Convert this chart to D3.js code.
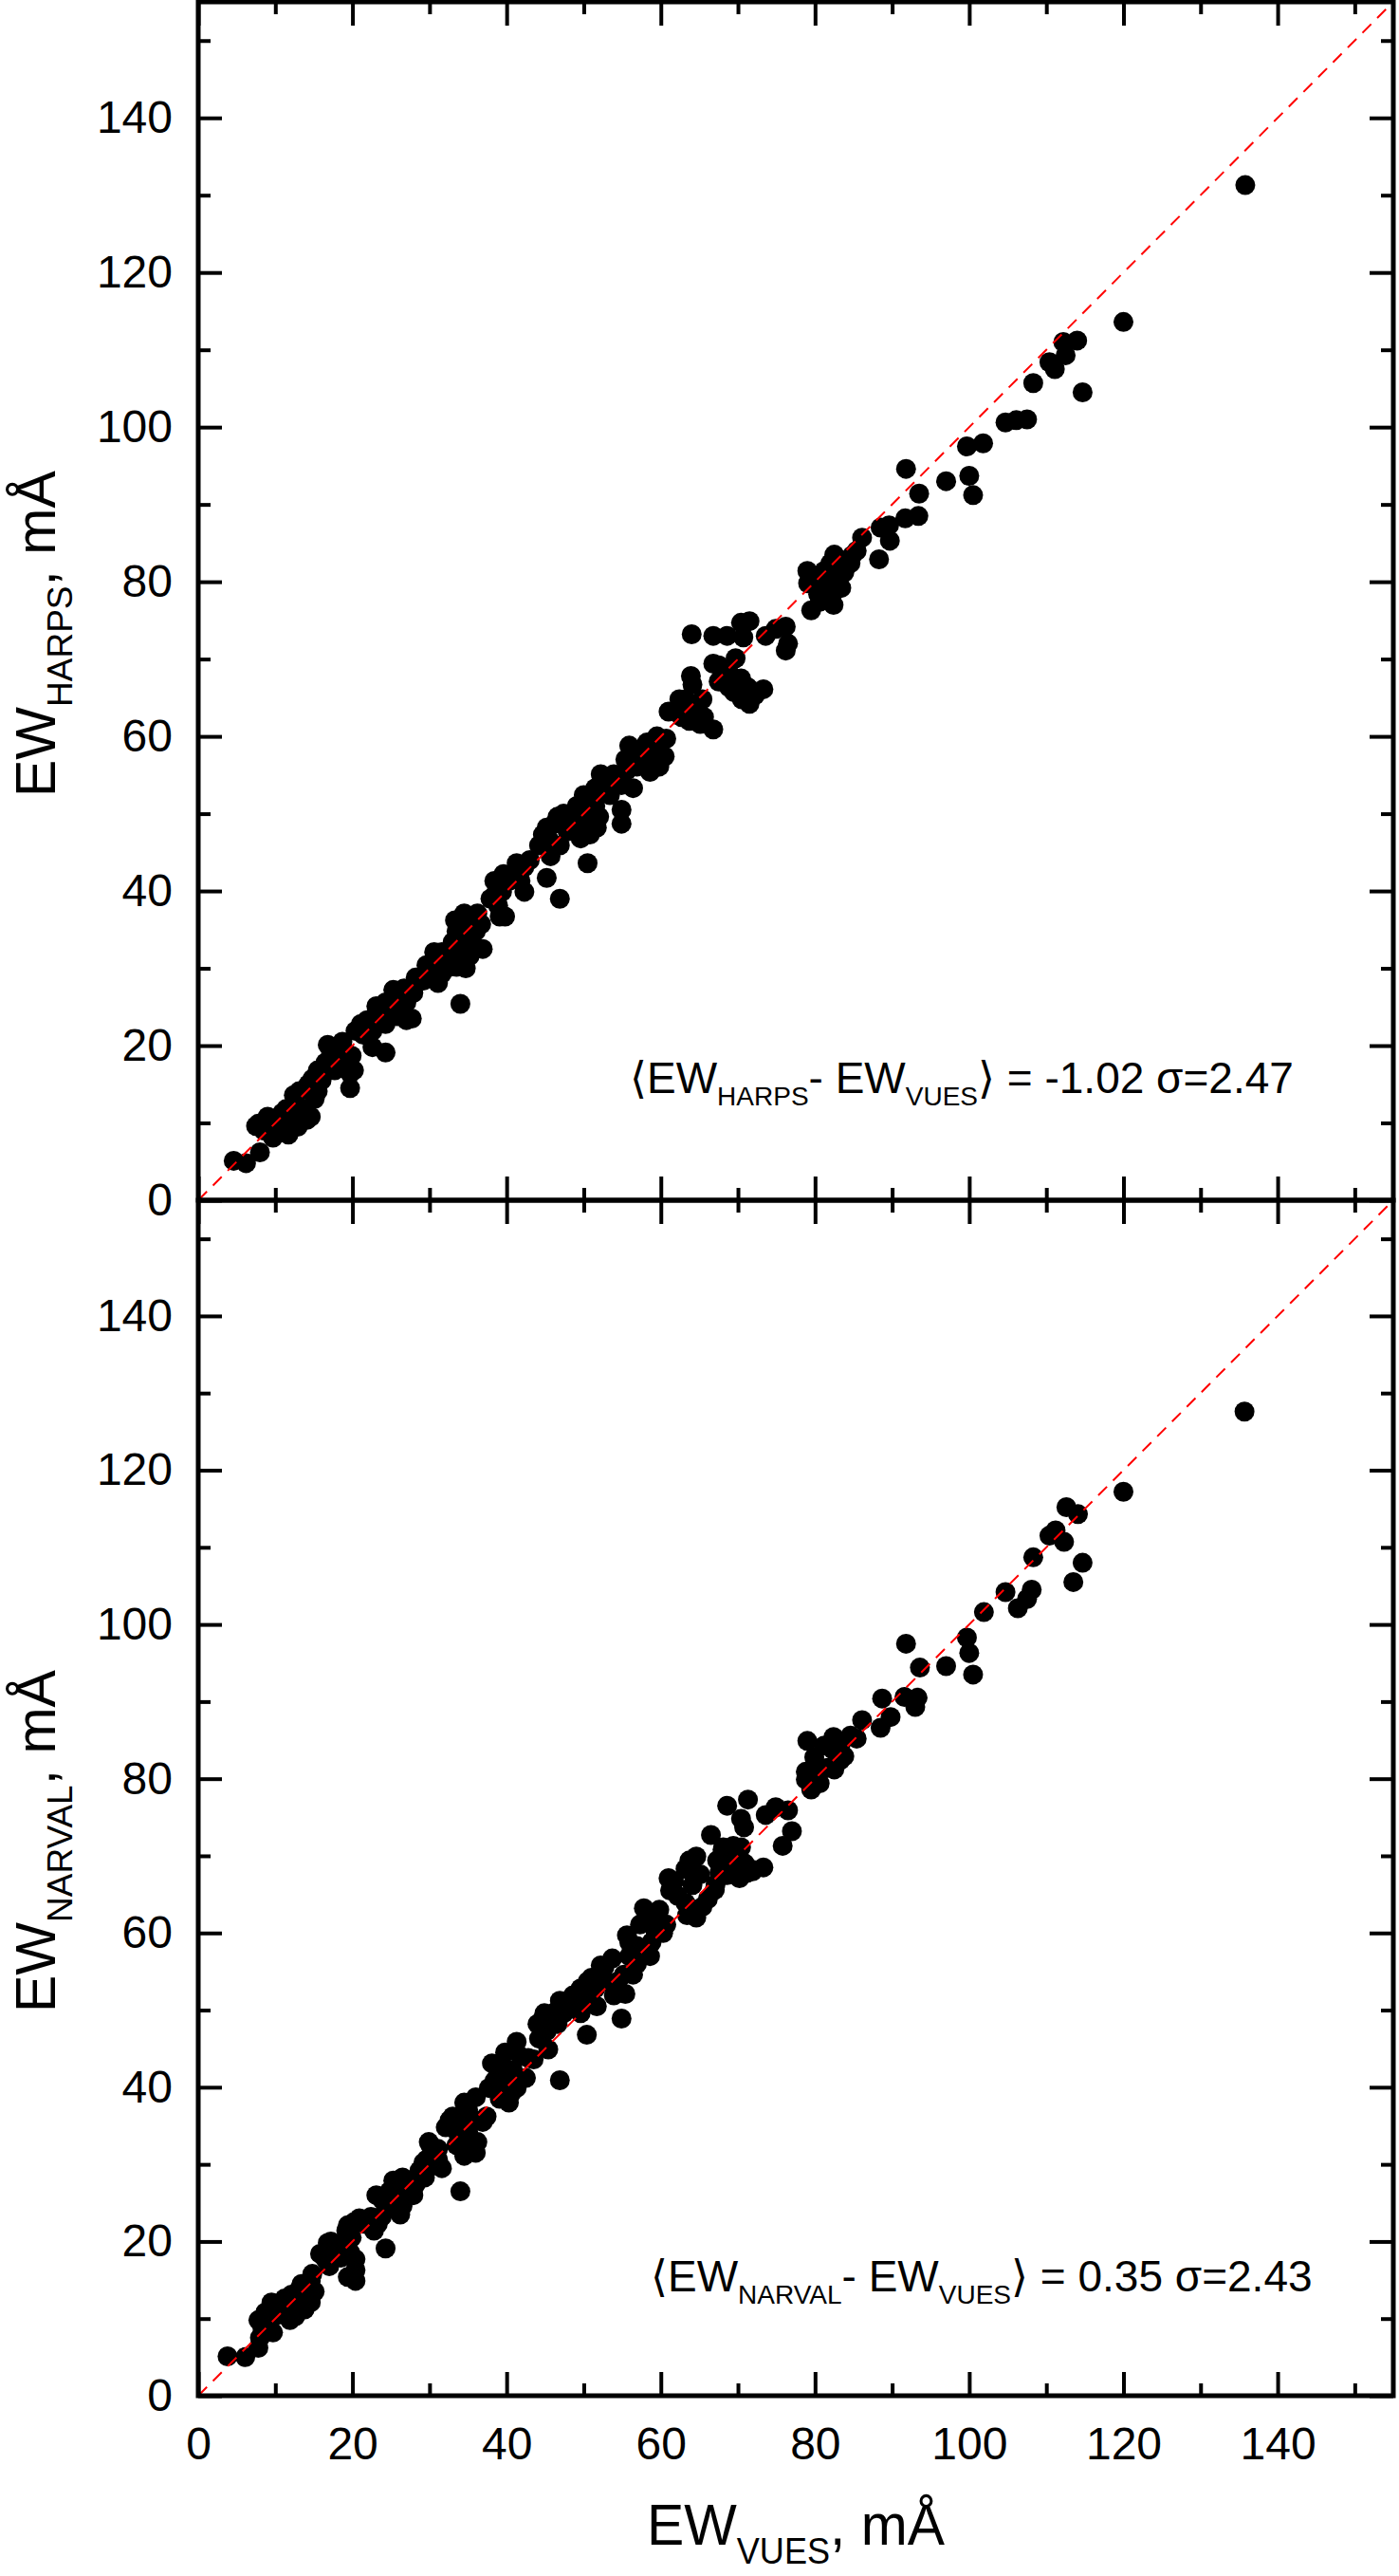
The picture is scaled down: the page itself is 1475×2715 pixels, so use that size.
<!DOCTYPE html>
<html><head><meta charset="utf-8">
<script src="https://cdn.jsdelivr.net/npm/d3@7"></script>
<style>
body{margin:0;background:#fff}
svg{display:block}
text{font-family:"Liberation Sans",Arial,Helvetica,sans-serif;fill:#000}
</style>
</head><body>
<svg id="chart" width="1475" height="2715"></svg>
<script>
// ---------- DATA ----------
// Top panel points: [EW(VUES), EW(HARPS)], mÅ
const harpsPoints = [
[4.6,5.1],[6.2,4.8],[8.0,6.2],[7.8,9.9],[9.0,10.8],[9.7,8.1],[11.7,8.5],[11.4,11.8],[12.6,12.2],[14.1,10.4],
[13.1,14.1],[14.8,15.7],[15.1,13.1],[16.5,17.8],[16.8,20.1],[17.7,16.8],[19.2,19.1],[19.7,14.5],[20.2,16.8],[20.4,21.9],
[21.1,22.8],[22.6,19.8],[24.3,19.1],[23.1,25.1],[22.1,21.7],[25.3,27.2],[26.7,27.4],[25.8,23.8],[27.7,23.5],[27.0,25.6],
[28.2,28.8],[29.6,30.4],[30.6,32.1],[31.1,28.1],[30.1,29.3],[32.1,30.9],[33.3,36.2],[34.0,25.4],[34.5,37.1],[34.7,30.0],
[36.2,37.1],[36.9,32.5],[36.0,34.8],[37.9,39.0],[38.4,41.3],[39.1,36.7],[39.6,42.2],[41.3,43.6],[42.3,39.9],[43.0,44.0],
[45.2,41.7],[45.4,46.8],[46.9,39.0],[45.2,48.2],[46.6,49.6],[49.6,46.8],[50.0,52.4],[50.5,43.6],[51.7,48.2],[51.5,51.0],
[52.2,55.1],[53.9,55.1],[53.4,52.4],[54.9,50.5],[54.9,48.7],[55.9,58.8],[56.4,53.3],[58.2,59.2],[58.6,55.4],[59.5,60.0],
[60.5,57.4],[61.0,63.2],[62.4,64.8],[63.7,62.0],[63.9,67.8],[65.4,64.8],[65.1,61.6],[66.8,60.9],[66.8,69.4],[64.0,73.2],
[7.5,9.6],[8.5,9.0],[9.2,10.1],[10.4,9.9],[10.9,11.3],[12.1,10.4],[12.9,9.5],[13.6,11.8],[14.6,10.8],[12.4,13.6],
[14.3,15.0],[15.5,16.8],[16.0,15.5],[15.5,14.1],[17.2,18.7],[18.2,17.8],[18.7,20.5],[19.9,18.7],[19.7,16.4],[17.7,19.6],
[21.4,21.4],[21.9,23.3],[22.6,21.9],[23.3,23.8],[24.3,22.8],[24.3,25.6],[25.0,24.7],[26.2,26.1],[27.0,23.3],[26.5,24.7],
[27.9,26.8],[29.2,28.4],[30.4,30.7],[31.6,32.1],[31.6,29.3],[32.6,30.2],[33.0,33.4],[33.8,31.6],[33.5,34.8],[34.0,33.4],
[35.0,35.2],[35.5,33.4],[36.7,35.7],[35.2,31.6],[33.5,30.2],[38.4,39.4],[39.4,39.9],[38.9,38.1],[40.3,41.3],[41.1,42.2],
[41.8,41.3],[42.3,43.1],[39.8,36.7],[44.2,45.9],[44.7,47.3],[46.2,48.7],[47.4,50.0],[46.9,45.9],[45.7,44.5],[47.9,47.7],
[48.6,49.6],[49.1,51.0],[50.5,50.0],[49.8,48.7],[51.0,51.9],[50.8,47.3],[52.0,49.6],[51.5,53.3],[53.4,54.2],[54.9,53.7],
[55.4,57.0],[56.4,58.3],[55.6,55.6],[56.9,56.1],[57.3,57.9],[58.3,57.0],[59.3,58.3],[59.8,56.1],[60.7,59.7],[62.0,63.4],
[62.7,62.5],[63.2,64.8],[64.1,66.7],[64.6,63.4],[65.6,62.5],[67.5,67.1],[69.0,68.0],[69.5,65.7],[70.5,64.8],[71.4,66.2],
[71.9,65.3],
[135.8,131.3],[120.0,113.6],[114.0,111.2],[112.2,111.0],[112.5,109.3],[110.4,108.4],[111.1,107.5],[114.7,104.5],[108.3,105.7],[104.7,100.6],
[106.1,100.9],[107.5,101.0],[99.7,97.5],[101.8,97.9],[100.0,93.7],[100.5,91.2],[97.0,93.0],[91.8,94.6],[93.5,91.4],[93.4,88.5],
[91.7,88.2],[89.6,87.3],[88.5,87.0],[89.7,85.3],[88.3,82.9],[86.1,85.7],[85.4,84.0],[84.6,82.4],[82.5,83.5],[82.0,82.4],
[79.0,81.4],[79.1,79.8],[82.8,80.2],[81.7,79.3],[80.4,78.4],[79.5,76.3],[82.4,77.0],[83.8,81.2],[76.2,74.2],[74.9,73.9],
[73.6,73.0],[76.5,72.0],[76.2,71.1],[71.5,74.9],[70.4,74.7],[70.7,72.8],[68.6,73.0],[66.8,73.0],[69.7,70.1],[67.5,69.2],
[70.4,67.5],[73.3,66.1],[71.5,64.2],[68.8,66.4],
[80.1,80.7],[81.2,81.4],[83.2,82.4],[84.8,83.4],[80.6,77.4],[82.2,78.3],[83.4,79.2],[68.3,67.7],[69.6,66.0],[71.2,66.4],
[72.2,65.3]
];

// Bottom panel points: [EW(VUES), EW(NARVAL)], mÅ
const narvalPoints = [
[3.8,5.1],[6.1,5.0],[7.8,6.2],[8.0,7.5],[7.8,9.8],[8.7,10.8],[9.7,8.2],[10.0,11.9],[11.2,12.6],[11.9,9.8],
[12.1,13.1],[13.1,13.8],[13.8,11.2],[14.1,12.6],[14.8,15.8],[13.4,14.5],[15.8,18.4],[16.8,19.8],[17.0,16.8],[19.0,19.1],
[19.4,22.1],[19.4,15.4],[20.4,17.7],[20.4,16.3],[20.9,23.0],[22.8,21.4],[23.1,26.0],[24.3,19.1],[25.3,27.9],[26.5,28.3],
[26.2,23.5],[27.9,26.0],[24.3,24.2],[29.2,30.2],[30.6,29.9],[29.9,32.9],[31.1,30.6],[33.0,36.2],[34.0,26.5],[34.5,38.0],
[34.5,31.1],[36.0,31.5],[35.7,32.9],[36.9,35.5],[36.0,38.7],[38.1,43.1],[38.4,40.8],[39.1,38.5],[39.8,44.5],[40.6,39.2],
[41.3,45.9],[42.5,41.2],[42.8,43.8],[44.2,46.3],[44.7,48.9],[45.4,44.9],[46.9,40.9],[46.9,51.2],[46.6,48.2],[49.1,51.9],
[49.6,49.6],[50.4,46.8],[50.5,53.7],[51.7,50.5],[52.2,55.8],[53.7,56.7],[53.9,51.9],[54.9,48.9],[55.4,52.1],[55.6,59.7],
[56.4,54.6],[57.8,63.2],[58.6,57.0],[59.0,61.6],[60.3,60.0],[61.0,67.1],[61.2,65.5],[63.2,68.3],[63.4,62.3],[64.6,69.9],
[65.4,63.4],
[8.3,8.9],[9.0,10.1],[10.4,10.5],[9.5,12.1],[10.7,11.2],[11.7,12.1],[12.9,11.2],[12.6,10.3],[14.6,12.1],[13.8,14.2],
[15.1,13.5],[14.6,14.9],[16.5,17.7],[17.5,19.1],[18.2,19.5],[18.5,17.9],[19.7,18.6],[19.9,20.5],[20.4,14.9],[17.2,20.0],
[19.2,21.4],[20.2,22.5],[21.6,22.3],[22.4,23.2],[23.3,22.3],[23.8,23.2],[23.8,25.5],[24.8,26.5],[25.8,25.5],[26.7,26.9],
[27.2,27.9],[25.3,24.6],[26.5,24.6],[28.2,27.4],[28.7,29.2],[29.6,30.6],[30.1,32.5],[31.1,32.0],[31.6,29.5],[29.4,28.3],
[32.1,34.8],[32.6,35.7],[33.5,34.3],[34.0,35.2],[35.0,37.1],[35.0,34.3],[36.0,35.7],[33.5,32.5],[34.7,32.5],[36.2,32.9],
[37.4,36.2],[37.7,39.9],[38.9,41.8],[38.9,39.9],[39.6,42.6],[40.1,40.0],[40.8,42.2],[41.3,39.9],[40.3,38.0],[41.8,44.0],
[43.5,43.6],[44.0,48.2],[44.9,49.6],[45.7,48.3],[46.2,49.7],[47.4,49.6],[47.9,50.5],[45.2,47.3],[48.6,51.9],[49.6,52.8],
[50.3,51.4],[51.0,54.2],[51.5,52.8],[52.0,54.6],[52.7,55.6],[53.0,53.7],[54.4,53.7],[55.2,54.6],[55.9,58.8],[55.9,57.0],
[56.9,58.3],[57.3,61.1],[58.3,61.6],[59.3,60.2],[59.8,63.0],[60.7,61.1],[56.9,56.0],[58.8,58.8],[61.7,66.7],[62.2,64.8],
[63.7,69.4],[64.1,66.2],[65.1,67.6],[63.2,63.9],[64.6,62.0],[66.1,64.4],[67.1,66.3],[68.0,70.8],[70.0,70.4],[70.9,69.0],
[71.9,68.0],
[135.7,127.6],[120.0,117.2],[112.6,115.2],[114.1,114.3],[111.2,112.2],[110.4,111.5],[112.3,110.7],[108.3,108.7],[114.7,108.0],[113.5,105.5],
[104.7,104.2],[108.1,104.5],[107.5,103.3],[106.3,102.1],[101.9,101.6],[99.7,98.3],[100.0,96.3],[100.5,93.5],[97.0,94.6],[91.8,97.5],
[93.6,94.4],[93.3,90.5],[93.0,89.3],[91.6,90.6],[88.7,90.4],[89.8,88.0],[88.5,86.6],[86.1,87.6],[85.4,85.2],[84.6,85.6],
[82.4,85.4],[79.0,84.9],[82.3,83.8],[83.8,82.9],[79.9,82.8],[78.8,80.9],[82.5,81.2],[80.4,80.5],[79.5,78.6],[76.5,75.9],
[74.9,76.3],[73.6,75.3],[77.0,73.2],[75.8,71.3],[71.3,77.3],[68.6,76.5],[70.4,74.8],[70.8,73.7],[66.5,72.7],[69.4,71.3],
[70.4,71.1],[67.3,69.4],[71.8,68.2],[73.3,68.5],[68.6,67.5],[70.2,67.1],[67.0,65.6],
[81.2,84.3],[83.3,82.4],[80.0,82.0],[81.6,81.4],[83.3,84.3],[78.8,79.9],[80.6,79.4],[68.1,71.1],[69.1,68.7],[71.2,67.8],
[67.6,67.8]
];

const majorTicks = [0,20,40,60,80,100,120,140];
const minorTicks = [10,30,50,70,90,110,130,150];
const axisMax = 155;
const yTitles = [["EW","HARPS",", mÅ"],["EW","NARVAL",", mÅ"]];
const xTitle = ["EW","VUES",", mÅ"];
const notes = [["⟨EW","HARPS","- EW","VUES","⟩ = -1.02 σ=2.47"],["⟨EW","NARVAL","- EW","VUES","⟩ = 0.35 σ=2.43"]];

// ---------- LAYOUT ----------
const svg = d3.select("#chart");
const L = 209, R = 1469;
const panels = [
  {pts: harpsPoints, top: 2, bottom: 1265, title: yTitles[0], note: notes[0], noteX: 664, noteY: 1152, titleY: 840},
  {pts: narvalPoints, top: 1265, bottom: 2525, title: yTitles[1], note: notes[1], noteX: 686, noteY: 2415, titleY: 2121}
];
const x = d3.scaleLinear().domain([0, axisMax]).range([L, R]);

function styleAxis(g){
  g.select(".domain").remove();
  g.selectAll(".tick line").attr("stroke","#000").attr("stroke-width",4);
  g.selectAll(".tick text").attr("font-size",48).attr("font-family",'"Liberation Sans",Arial,sans-serif');
}

panels.forEach((p, i) => {
  const y = d3.scaleLinear().domain([0, axisMax]).range([p.bottom, p.top]);
  const g = svg.append("g");
  g.append("g").selectAll("circle").data(p.pts).join("circle")
    .attr("cx", d => x(d[0])).attr("cy", d => y(d[1])).attr("r", 10.5).attr("fill", "#000");
  g.append("line")
    .attr("x1", x(0)).attr("y1", y(0)).attr("x2", x(axisMax)).attr("y2", y(axisMax))
    .attr("stroke", "#ff0000").attr("stroke-width", 2).attr("stroke-dasharray", "13,9");

  g.append("g").attr("transform", `translate(${L},0)`)
    .call(d3.axisLeft(y).tickValues(majorTicks).tickSize(-25).tickPadding(27).tickFormat(d3.format("d")))
    .call(styleAxis);
  g.append("g").attr("transform", `translate(${L},0)`)
    .call(d3.axisLeft(y).tickValues(minorTicks).tickSize(-13).tickFormat(""))
    .call(styleAxis);
  g.append("g").attr("transform", `translate(${R},0)`)
    .call(d3.axisRight(y).tickValues(majorTicks).tickSize(-25).tickFormat(""))
    .call(styleAxis);
  g.append("g").attr("transform", `translate(${R},0)`)
    .call(d3.axisRight(y).tickValues(minorTicks).tickSize(-13).tickFormat(""))
    .call(styleAxis);
  g.append("g").attr("transform", `translate(0,${p.top})`)
    .call(d3.axisTop(x).tickValues(majorTicks).tickSize(-25).tickFormat(""))
    .call(styleAxis);
  g.append("g").attr("transform", `translate(0,${p.top})`)
    .call(d3.axisTop(x).tickValues(minorTicks).tickSize(-13).tickFormat(""))
    .call(styleAxis);
  const last = i === panels.length - 1;
  g.append("g").attr("transform", `translate(0,${p.bottom})`)
    .call(d3.axisBottom(x).tickValues(majorTicks).tickSize(-25).tickPadding(33)
      .tickFormat(last ? d3.format("d") : ""))
    .call(styleAxis);
  g.append("g").attr("transform", `translate(0,${p.bottom})`)
    .call(d3.axisBottom(x).tickValues(minorTicks).tickSize(-13).tickFormat(""))
    .call(styleAxis);

  g.append("rect").attr("x", L).attr("y", p.top).attr("width", R - L).attr("height", p.bottom - p.top)
    .attr("fill", "none").attr("stroke", "#000").attr("stroke-width", 5);

  const t = g.append("text").attr("transform", `translate(58,${p.titleY}) rotate(-90)`).attr("font-size", 59);
  t.append("tspan").text(p.title[0]);
  t.append("tspan").attr("font-size", 37).attr("dy", 18).text(p.title[1]);
  t.append("tspan").attr("font-size", 59).attr("dy", -18).text(p.title[2]);

  const n = g.append("text").attr("x", p.noteX).attr("y", p.noteY).attr("font-size", 46);
  n.append("tspan").text(p.note[0]);
  n.append("tspan").attr("font-size", 28).attr("dy", 13).text(p.note[1]);
  n.append("tspan").attr("font-size", 46).attr("dy", -13).text(p.note[2]);
  n.append("tspan").attr("font-size", 28).attr("dy", 13).text(p.note[3]);
  n.append("tspan").attr("font-size", 46).attr("dy", -13).text(p.note[4]);
});

// x title, centred on the plot
const xt = svg.append("text")
  .attr("transform", `translate(${(L + R) / 2},2682) scale(0.95,1)`)
  .attr("text-anchor", "middle").attr("font-size", 62);
xt.append("tspan").text(xTitle[0]);
xt.append("tspan").attr("font-size", 38).attr("dy", 20).text(xTitle[1]);
xt.append("tspan").attr("font-size", 62).attr("dy", -20).text(xTitle[2]);
</script>
</body></html>
